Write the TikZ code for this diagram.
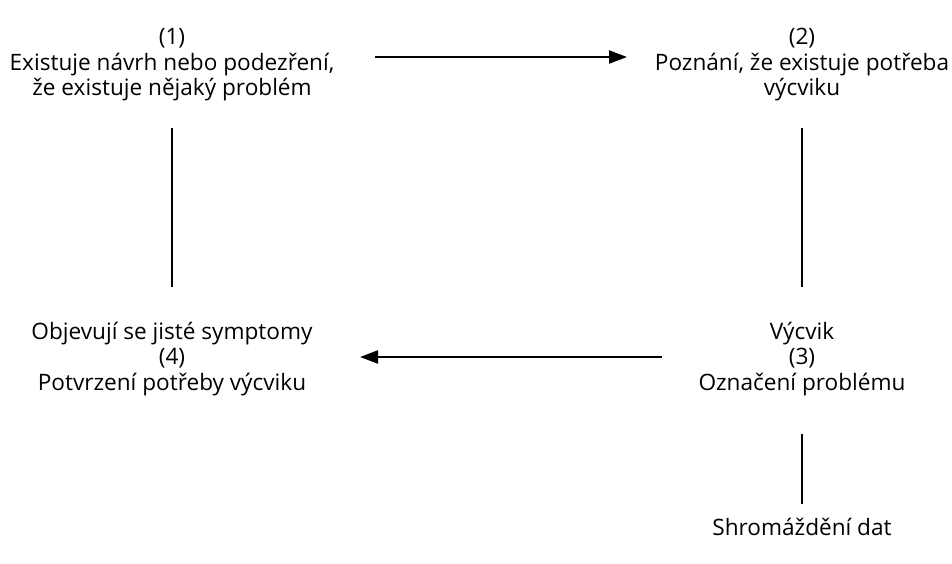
\documentclass[tikz,border=0pt]{standalone}
\usepackage{fontspec}
\setmainfont{Open Sans}
\usetikzlibrary{arrows.meta}
\begin{document}
\begin{tikzpicture}[x=1pt,y=-1pt,
  label/.style={align=center,inner sep=0pt,font=\fontsize{22.6}{25.5}\selectfont},
  link/.style={line width=2.3pt,black},
  flow/.style={link,-{Triangle[length=18pt,width=13pt]}}]
\useasboundingbox (0,0) rectangle (952,563);
\node[label] (n1) at (172,65) {(1)\\Existuje návrh nebo podezření,\\že existuje nějaký problém};
\node[label] (n2) at (802,65) {(2)\\Poznání, že existuje potřeba\\výcviku};
\node[label] (n3) at (802,359) {Výcvik\\(3)\\Označení problému};
\node[label] (n4) at (172,359) {Objevují se jisté symptomy\\(4)\\Potvrzení potřeby výcviku};
\node[label] (n5) at (802,527) {Shromáždění dat};
% connectors between the stages
\draw[flow,shorten <=203pt,shorten >=175pt] ([yshift=8pt]n1.center) -- ([yshift=8pt]n2.center);
\draw[link,shorten <=63pt,shorten >=72pt] (n1.center) -- (n4.center);
\draw[link,shorten <=63pt,shorten >=72pt] (n2.center) -- (n3.center);
\draw[flow,shorten <=140pt,shorten >=188pt] ([yshift=2pt]n3.center) -- ([yshift=2pt]n4.center);
\draw[link,shorten <=75pt,shorten >=23pt] (n3.center) -- (n5.center);
\end{tikzpicture}
\end{document}
